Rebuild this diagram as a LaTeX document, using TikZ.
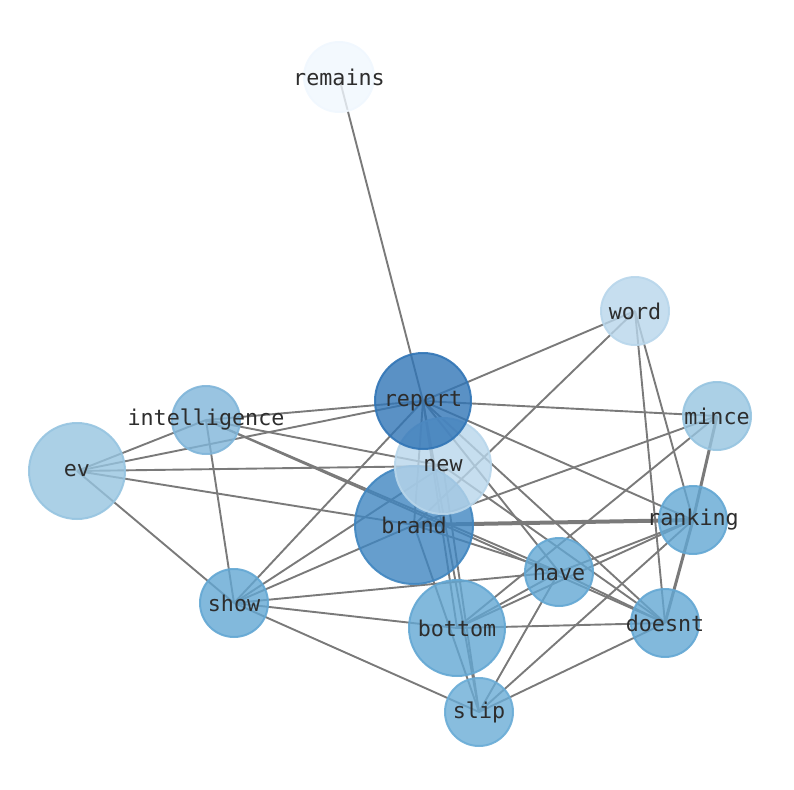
\documentclass[tikz,border=0pt]{standalone}
\usepackage{fontspec}
\setmonofont{DejaVu Sans Mono}
\pgfdeclarelayer{edges}
\pgfsetlayers{edges,main}
\definecolor{cRem}{RGB}{240,247,254}
\definecolor{cWord}{RGB}{184,214,235}
\definecolor{cMid}{RGB}{150,196,224}
\definecolor{cInt}{RGB}{127,181,217}
\definecolor{cStd}{RGB}{99,167,211}
\definecolor{cBot}{RGB}{106,172,214}
\definecolor{cBrand}{RGB}{64,134,192}
\definecolor{cRep}{RGB}{49,117,182}
\definecolor{cTxt}{RGB}{45,45,45}
\definecolor{cEdge}{RGB}{122,122,122}
\tikzset{
  vert/.style={circle,inner sep=0pt,minimum size=#1,fill opacity=0.8,draw opacity=0.9,line width=2bp},
  lbl/.style={font=\ttfamily\fontsize{21.8}{26}\selectfont,text=cTxt,inner sep=0pt},
  link/.style={draw=cEdge,line width=1.9bp},
  wlink/.style={draw=cEdge,line width=3bp},
  wwlink/.style={draw=cEdge,line width=4bp}
}
\begin{document}
\begin{tikzpicture}[x=1bp,y=-1bp]
\useasboundingbox (0,0) rectangle (794,790);
% vertices
\node[vert=70bp,fill=cRem,draw=cRem] (remains) at (339,77) {};
\node[vert=68bp,fill=cWord,draw=cWord] (word) at (635,311) {};
\node[vert=68bp,fill=cMid,draw=cMid] (mince) at (717,416) {};
\node[vert=68bp,fill=cInt,draw=cInt] (intelligence) at (206,420) {};
\node[vert=96bp,fill=cMid,draw=cMid] (ev) at (77,471) {};
\node[vert=68bp,fill=cStd,draw=cStd] (ranking) at (693,520) {};
\node[vert=68bp,fill=cStd,draw=cStd] (have) at (559,572) {};
\node[vert=68bp,fill=cStd,draw=cStd] (show) at (234,603) {};
\node[vert=68bp,fill=cStd,draw=cStd] (doesnt) at (665,623) {};
\node[vert=68bp,fill=cBot,draw=cBot] (slip) at (479,712) {};
\node[vert=96bp,fill=cStd,draw=cStd] (bottom) at (457,628) {};
\node[vert=118bp,fill=cBrand,draw=cBrand] (brand) at (414,525) {};
\node[vert=96bp,fill=cWord,draw=cWord] (new) at (443,466) {};
\node[vert=96bp,fill=cRep,draw=cRep] (report) at (423,401) {};
% edges
\begin{pgfonlayer}{edges}
\foreach \a/\b in {remains/report,word/report,word/brand,word/ranking,word/doesnt,
  mince/report,mince/brand,mince/bottom,
  report/intelligence,report/ev,report/ranking,report/doesnt,report/have,report/brand,
  report/bottom,report/slip,report/show,
  intelligence/ev,intelligence/new,intelligence/have,intelligence/doesnt,intelligence/show,
  ev/new,ev/brand,ev/show,
  show/new,show/brand,show/have,show/bottom,show/slip,
  bottom/have,bottom/ranking,bottom/doesnt,
  have/ranking,have/doesnt,have/slip,
  slip/ranking,slip/doesnt,brand/slip,brand/have,new/slip,new/doesnt}
  {\draw[link] (\a.center) -- (\b.center);}
\draw[wlink] (mince.center) -- (ranking.center);
\draw[wlink] (ranking.center) -- (doesnt.center);
\draw[wwlink] (brand.center) -- (ranking.center);
\end{pgfonlayer}
% labels
\foreach \n in {remains,word,mince,intelligence,ev,ranking,have,show,doesnt,slip,bottom,brand,new,report}
  {\node[lbl] (t-\n) at (\n.center) {\n};}
\end{tikzpicture}
\end{document}
